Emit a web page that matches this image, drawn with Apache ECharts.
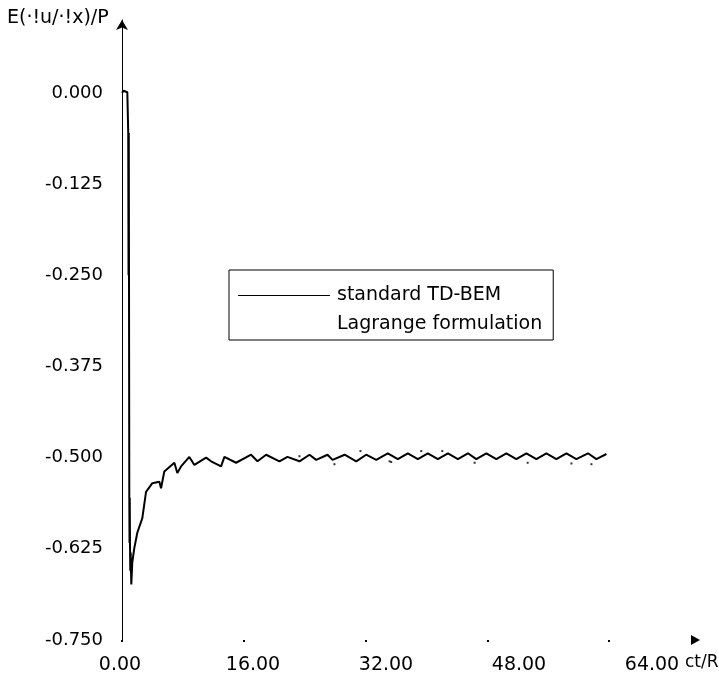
<!DOCTYPE html>
<html>
<head>
<meta charset="utf-8">
<script src="https://cdn.jsdelivr.net/npm/echarts@6/dist/echarts.min.js"></script>
<style>
  html, body { margin: 0; padding: 0; background: #fff; }
  #chart { width: 719px; height: 689px; }
</style>
</head>
<body>
<div id="chart"></div>
<script>
// standard TD-BEM curve (ct/R, E(du/dx)/P)
const ctR = [
  0.00, 0.20, 0.45, 0.70, 0.80, 0.82, 0.86, 0.89, 0.92, 0.96, 0.99, 1.02, 1.05, 1.09, 1.14, 1.22,
  1.35, 1.60, 2.01, 2.67, 3.16, 3.99, 4.91, 5.13, 5.56, 6.88, 7.27, 7.76, 8.85, 9.51,
  11.05, 11.71, 13.02, 13.46, 14.99, 16.97, 17.80, 18.94, 20.69, 21.74, 23.32, 24.64,
  25.52, 27.01, 27.67, 29.26, 30.78, 32.09, 33.41, 34.93, 36.25, 37.56, 38.88, 40.19,
  41.51, 42.83, 44.14, 45.46, 46.56, 47.88, 49.19, 50.51, 51.82, 53.14, 54.45, 55.77,
  57.08, 58.40, 59.71, 61.24, 62.34, 63.66
];
const stdTdBem = [
  0.000, 0.003, 0.004, 0.001, -0.001, -0.055, -0.250, -0.055, -0.250, -0.555, -0.617, -0.555, -0.617, -0.655, -0.630, -0.674,
  -0.644, -0.625, -0.603, -0.583, -0.547, -0.535, -0.533, -0.542, -0.519, -0.507, -0.521, -0.512, -0.499, -0.510,
  -0.500, -0.505, -0.512, -0.499, -0.507, -0.496, -0.505, -0.496, -0.505, -0.499, -0.505, -0.496,
  -0.503, -0.496, -0.503, -0.496, -0.505, -0.496, -0.503, -0.494, -0.502, -0.494, -0.502, -0.494,
  -0.502, -0.494, -0.502, -0.494, -0.502, -0.494, -0.502, -0.494, -0.502, -0.494, -0.502, -0.494,
  -0.502, -0.494, -0.502, -0.494, -0.502, -0.495
];

// Lagrange formulation: only a few stray dots show beside the curve
const lagrangeX = [23.32, 27.92, 31.34, 35.16, 35.38, 39.33, 42.09, 46.34, 53.31, 59.06, 61.69];
const lagrangeY = [-0.498, -0.509, -0.491, -0.505, -0.506, -0.491, -0.491, -0.507, -0.507, -0.508, -0.509];

const xTicks = [0, 64, 16];           // min, max, step
const yTicks = [-0.75, 0.1, 0.125];   // min, top of the arrow, step

const font = 'DejaVu Sans';

const chart = echarts.init(document.getElementById('chart'));

const option = {
  animation: false,
  backgroundColor: '#fff',
  grid: [
    { left: 122, right: 110, top: 20, bottom: 49 },
    // the tick labels in the picture are spread wider than the ticks
    { left: 120, right: 67, top: 20, bottom: 49 }
  ],
  xAxis: [
    {
      type: 'value', gridIndex: 0,
      min: xTicks[0], max: xTicks[1], interval: xTicks[2],
      axisLine: { show: false, onZero: false },
      axisTick: { show: true, length: 2, lineStyle: { color: '#000', width: 2 } },
      axisLabel: { show: false },
      splitLine: { show: false }
    },
    {
      type: 'value', gridIndex: 1,
      min: xTicks[0], max: xTicks[1], interval: xTicks[2],
      axisLine: { show: false, onZero: false },
      axisTick: { show: false },
      splitLine: { show: false },
      axisLabel: {
        margin: 16, color: '#000', fontFamily: font, fontSize: 19,
        formatter: v => v.toFixed(2)
      }
    }
  ],
  yAxis: [
    {
      type: 'value', gridIndex: 0,
      min: yTicks[0], max: yTicks[1], interval: yTicks[2],
      axisLine: {
        show: true, symbol: ['none', 'arrow'], symbolSize: [9, 10],
        lineStyle: { color: '#000', width: 1 }
      },
      axisTick: { show: false },
      splitLine: { show: false },
      axisLabel: {
        margin: 19, color: '#000', fontFamily: font, fontSize: 18,
        padding: [4, 0, 0, 0],
        showMaxLabel: false,
        formatter: v => (v > 0.001 ? '' : v.toFixed(3))
      }
    },
    { type: 'value', gridIndex: 1, show: false, min: yTicks[0], max: yTicks[1] }
  ],
  legend: {
    left: 229, top: 270, orient: 'vertical',
    itemWidth: 92, itemHeight: 1, itemGap: 10,
    padding: [16, 11, 6, 9],
    borderColor: '#000', borderWidth: 1, borderRadius: 0,
    textStyle: { fontFamily: font, fontSize: 19, color: '#000', padding: [0, 0, 0, 2] },
    data: [
      { name: 'standard TD-BEM', icon: 'rect', itemStyle: { color: '#000' } },
      { name: 'Lagrange formulation', icon: 'none' }
    ]
  },
  graphic: [
    { type: 'text', left: 7, top: 9,
      style: { text: 'E(\u00B7!u/\u00B7!x)/P', fontFamily: font, fontSize: 19, fill: '#000' } },
    { type: 'text', left: 685, top: 654,
      style: { text: 'ct/R', fontFamily: font, fontSize: 17, fill: '#000' } },
    { type: 'polygon', shape: { points: [[691, 635], [700, 640], [691, 645]] },
      style: { fill: '#000' } }
  ],
  series: [
    {
      name: 'standard TD-BEM', type: 'line',
      xAxisIndex: 0, yAxisIndex: 0,
      symbol: 'none',
      lineStyle: { color: '#000', width: 2 },
      itemStyle: { color: '#000' },
      data: ctR.map((x, i) => [x, stdTdBem[i]])
    },
    {
      name: 'Lagrange formulation', type: 'scatter',
      xAxisIndex: 0, yAxisIndex: 0,
      symbol: 'rect', symbolSize: 2,
      itemStyle: { color: '#000' },
      data: lagrangeX.map((x, i) => [x, lagrangeY[i]])
    }
  ]
};

chart.setOption(option);
</script>
</body>
</html>
